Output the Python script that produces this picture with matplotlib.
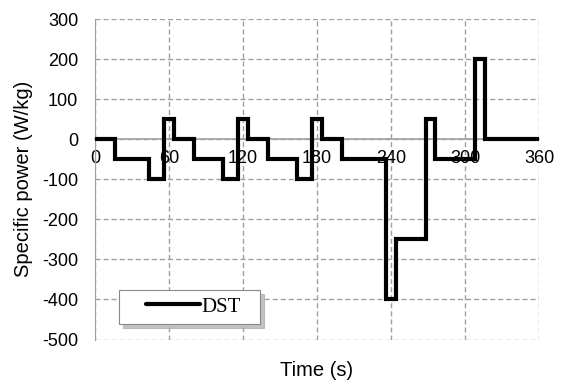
import numpy as np
import matplotlib
matplotlib.use("Agg")
import matplotlib.pyplot as plt
from matplotlib.legend_handler import HandlerLine2D

# DST profile: step boundaries (s) and the power level (W/kg) held between them
t_edges = [0, 16, 44, 56, 64, 80, 104, 116, 124, 140, 164, 176, 184, 200,
           236, 244, 268, 276, 308, 316, 360]
power = [0, -50, -100, 50, 0, -50, -100, 50, 0, -50, -100, 50, 0, -50,
         -400, -250, 50, -50, 200, 0]

x_ticks = [0, 60, 120, 180, 240, 300, 360]
y_ticks = [-500, -400, -300, -200, -100, 0, 100, 200, 300]

plt.rcParams['font.family'] = ['Liberation Sans', 'DejaVu Sans']
plt.rcParams['axes.unicode_minus'] = False

W, H = 563, 381
fig = plt.figure(figsize=(W / 100, H / 100), dpi=100)
# axes box in pixels: left 95, right 539, top 19, bottom 339.5
ax = fig.add_axes([95 / W, 1 - 339.5 / H, 444 / W, 320.5 / H])

# step line
xs, ys = [], []
for i, p in enumerate(power):
    xs += [t_edges[i], t_edges[i + 1]]
    ys += [p, p]
ax.plot(xs, ys, color='black', lw=3, solid_joinstyle='miter', label='DST', zorder=3)

ax.set_xlim(0, 360)
ax.set_ylim(-500, 300)
ax.set_xticks(x_ticks)
ax.set_yticks(y_ticks)

ax.grid(True, color='#a0a0a0', ls=(0, (3.6, 2.2)), lw=1.0)
for s in ['top', 'right']:
    ax.spines[s].set_visible(False)
ax.spines['left'].set_color('#a0a0a0')
ax.spines['bottom'].set_position(('data', 0))
ax.spines['bottom'].set_color('#a0a0a0')
ax.spines['bottom'].set_linewidth(1.2)
ax.tick_params(length=0, labelsize=13)
ax.tick_params(axis='x', pad=8)
ax.tick_params(axis='y', pad=12)

ax.set_xlabel('Time (s)', fontsize=14.5)
ax.xaxis.set_label_coords(0.5, -0.068)
ax.set_ylabel('Specific power (W/kg)', fontsize=14.5)
ax.yaxis.set_label_coords(-0.14, 0.5)

leg = ax.legend(loc='lower left', bbox_to_anchor=(24 / 444, 15.5 / 320.5, 141 / 444, 0.1),
                mode='expand', frameon=True, fancybox=False,
                shadow={'ox': 3, 'oy': -3, 'color': '#aaaaaa', 'alpha': 0.7},
                prop={'family': 'Liberation Serif', 'size': 15},
                handler_map={matplotlib.lines.Line2D: HandlerLine2D(marker_pad=0.95, numpoints=2)},
                handlelength=4.5, handletextpad=-0.9, borderpad=0.35, borderaxespad=0)
leg.get_frame().set_edgecolor('#888888')
leg.get_frame().set_linewidth(0.8)
leg.get_lines()[0].set_solid_capstyle('round')

fig.savefig('out.png', dpi=100)
